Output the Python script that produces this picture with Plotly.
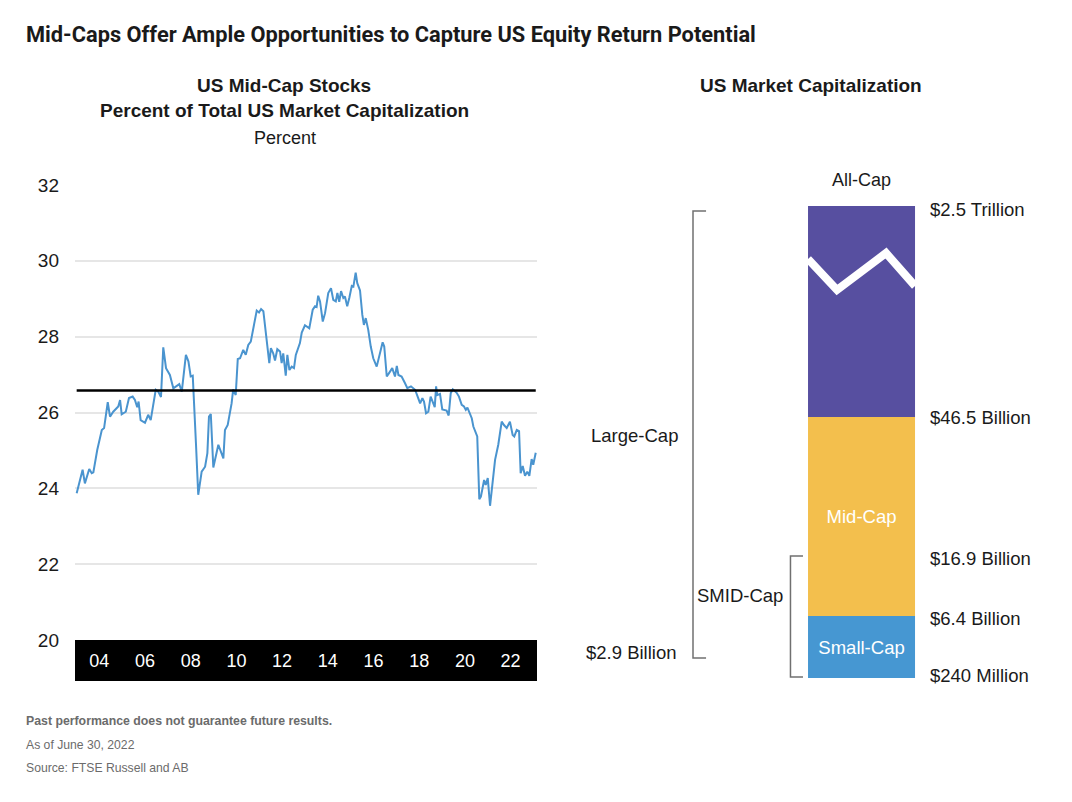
import plotly.graph_objects as go

# ---------------- data: US mid-cap share of total US market cap (%) ----------------
years = [
    2003.01, 2003.27, 2003.37, 2003.56, 2003.67, 2003.74, 2003.91, 2004.11, 2004.21, 2004.37,
    2004.47, 2004.61, 2004.83, 2004.91, 2004.98, 2005.16, 2005.30, 2005.46, 2005.56, 2005.66,
    2005.72, 2005.81, 2006.00, 2006.14, 2006.25, 2006.47, 2006.58, 2006.70, 2006.80, 2006.92,
    2007.09, 2007.24, 2007.50, 2007.61, 2007.79, 2007.90, 2008.00, 2008.09, 2008.23, 2008.33,
    2008.48, 2008.63, 2008.73, 2008.80, 2008.88, 2008.99, 2009.21, 2009.36, 2009.43, 2009.50,
    2009.62, 2009.79, 2009.86, 2009.97, 2010.06, 2010.16, 2010.30, 2010.41, 2010.52, 2010.63,
    2010.74, 2010.89, 2010.99, 2011.08, 2011.18, 2011.28, 2011.35, 2011.44, 2011.51, 2011.61,
    2011.69, 2011.79, 2011.91, 2011.98, 2012.05, 2012.16, 2012.23, 2012.32, 2012.42, 2012.52,
    2012.60, 2012.71, 2012.78, 2012.86, 2013.00, 2013.19, 2013.34, 2013.44, 2013.51, 2013.58,
    2013.66, 2013.78, 2013.88, 2014.02, 2014.14, 2014.24, 2014.35, 2014.42, 2014.50, 2014.58,
    2014.68, 2014.75, 2014.85, 2014.94, 2015.05, 2015.12, 2015.22, 2015.29, 2015.41, 2015.51,
    2015.58, 2015.66, 2015.77, 2015.88, 2015.99, 2016.14, 2016.28, 2016.40, 2016.47, 2016.58,
    2016.68, 2016.82, 2016.94, 2017.02, 2017.09, 2017.23, 2017.38, 2017.48, 2017.64, 2017.82,
    2017.92, 2018.04, 2018.14, 2018.21, 2018.30, 2018.40, 2018.50, 2018.62, 2018.68, 2018.74,
    2018.79, 2018.91, 2019.01, 2019.20, 2019.29, 2019.38, 2019.47, 2019.64, 2019.74, 2019.86,
    2019.96, 2020.04, 2020.11, 2020.30, 2020.37, 2020.54, 2020.63, 2020.70, 2020.84, 2020.91,
    2021.00, 2021.10, 2021.22, 2021.32, 2021.46, 2021.61, 2021.71, 2021.83, 2021.97, 2022.09,
    2022.16, 2022.27, 2022.37, 2022.44, 2022.53, 2022.63, 2022.73, 2022.82, 2022.92, 2022.99,
    2023.10,
]
midcap_pct = [
    23.87, 24.49, 24.13, 24.51, 24.40, 24.42, 25.01, 25.54, 25.59, 26.27,
    25.89, 26.02, 26.16, 26.33, 25.95, 26.02, 26.38, 26.42, 26.33, 26.14,
    26.29, 25.80, 25.73, 25.94, 25.80, 26.60, 26.55, 26.41, 27.72, 27.17,
    26.99, 26.64, 26.75, 26.55, 27.52, 27.35, 26.95, 26.97, 25.19, 23.83,
    24.44, 24.57, 24.93, 25.89, 25.96, 24.55, 25.15, 24.86, 24.79, 25.54,
    25.67, 26.24, 26.61, 26.46, 27.41, 27.43, 27.65, 27.52, 27.78, 27.87,
    28.18, 28.69, 28.64, 28.73, 28.67, 28.09, 27.83, 27.30, 27.70, 27.56,
    27.37, 27.67, 27.61, 27.30, 27.56, 26.97, 27.52, 27.12, 27.21, 27.17,
    27.52, 27.70, 27.83, 28.11, 28.30, 28.22, 28.71, 28.80, 28.78, 29.08,
    28.93, 28.40, 28.62, 29.15, 29.28, 28.97, 28.93, 29.15, 28.92, 29.20,
    29.02, 29.06, 28.80, 29.02, 29.34, 29.32, 29.69, 29.41, 29.22, 28.58,
    28.31, 28.49, 28.18, 27.74, 27.43, 27.21, 27.52, 27.85, 27.74, 26.95,
    27.04, 27.17, 26.95, 27.23, 26.99, 26.95, 26.77, 26.64, 26.69, 26.60,
    26.44, 26.24, 26.38, 26.29, 25.98, 26.02, 26.42, 26.24, 26.14, 26.69,
    26.46, 26.49, 26.08, 26.05, 25.92, 26.51, 26.61, 26.52, 26.42, 26.20,
    26.16, 26.07, 26.13, 25.85, 25.63, 25.37, 23.71, 23.78, 24.22, 24.09,
    24.27, 23.54, 24.22, 24.75, 25.15, 25.76, 25.67, 25.59, 25.76, 25.41,
    25.37, 25.54, 25.51, 24.40, 24.59, 24.33, 24.44, 24.33, 24.77, 24.62,
    24.94,
]
average_pct = 26.58

x_tick_years = [2004, 2006, 2008, 2010, 2012, 2014, 2016, 2018, 2020, 2022]
x_tick_labels = ["04", "06", "08", "10", "12", "14", "16", "18", "20", "22"]
y_ticks = [20, 22, 24, 26, 28, 30, 32]

# ---------------- data: market-cap schematic ----------------
segment_names = ["Small-Cap", "Mid-Cap", "Large-Cap"]
segment_text = ["Small-Cap", "Mid-Cap", ""]
boundary_labels = ["$240 Million", "$6.4 Billion", "$16.9 Billion", "$46.5 Billion", "$2.5 Trillion"]

# ---------------- layout constants (schematic positions) ----------------
W, H = 1072, 802
def px(y):  # paper fraction from pixel row
    return 1 - y / H

seg_base = [0, 62, 261]
seg_height = [62, 199, 211]
seg_colors = ["#4697d2", "#f3bf4d", "#574fa0"]
label_levels = [3, 60, 120, 261, 469]

font_reg = "Liberation Sans, Arial, Helvetica, sans-serif"
font_title = "Roboto, Liberation Sans, sans-serif"
txt = "#1a1a1a"

fig = go.Figure()

# line chart
fig.add_trace(go.Scatter(
    x=years, y=midcap_pct, mode="lines",
    line=dict(color="#4a94cf", width=2), xaxis="x", yaxis="y",
    showlegend=False, hoverinfo="x+y",
))
fig.add_trace(go.Scatter(
    x=[years[0], years[-1]], y=[average_pct, average_pct], mode="lines",
    line=dict(color="black", width=2.5), xaxis="x", yaxis="y3",
    showlegend=False, hoverinfo="y",
))

# stacked schematic bar
fig.add_trace(go.Bar(
    x=[0, 0, 0], y=seg_height, base=seg_base, width=1,
    marker=dict(color=seg_colors, line=dict(width=0)),
    text=segment_text, textposition="inside", insidetextanchor="middle",
    textangle=0, textfont=dict(color="white", size=18.5, family=font_reg),
    hovertext=segment_names, hoverinfo="text",
    xaxis="x2", yaxis="y2", showlegend=False,
))

# break zigzag in the large-cap segment
fig.add_trace(go.Scatter(
    x=[-0.5, -0.229, 0.229, 0.5], y=[419, 388, 425, 392], mode="lines",
    line=dict(color="white", width=8), xaxis="x2", yaxis="y2",
    showlegend=False, hoverinfo="skip",
))

# brackets
bracket_color = "#707070"
fig.add_trace(go.Scatter(
    x=[-1.453, -1.575, -1.575, -1.453], y=[467, 467, 20, 20], mode="lines",
    line=dict(color=bracket_color, width=1.5), xaxis="x2", yaxis="y2",
    showlegend=False, hoverinfo="skip",
))
fig.add_trace(go.Scatter(
    x=[-0.547, -0.664, -0.664, -0.547], y=[122, 122, 1, 1], mode="lines",
    line=dict(color=bracket_color, width=1.5), xaxis="x2", yaxis="y2",
    showlegend=False, hoverinfo="skip",
))

annotations = []
def ann(text, x, y, size=17, bold=False, xanchor="center", color=txt, family=font_reg,
        xref="paper", yref="paper"):
    t = f"<b>{text}</b>" if bold else text
    annotations.append(dict(text=t, x=x, y=y, xref=xref, yref=yref, xanchor=xanchor,
                            yanchor="middle", showarrow=False,
                            font=dict(size=size, color=color, family=family)))

ann("Mid-Caps Offer Ample Opportunities to Capture US Equity Return Potential",
    24 / W, px(34), size=21.8, bold=True, xanchor="left", family=font_title)
ann("US Mid-Cap Stocks", 284 / W, px(85), size=19, bold=True)
ann("Percent of Total US Market Capitalization", 284 / W, px(111), size=19, bold=True)
ann("Percent", 285 / W, px(138), size=18)
ann("US Market Capitalization", 811 / W, px(85), size=19, bold=True)

# right panel labels
for lab, lev in zip(boundary_labels, label_levels):
    ann(lab, 0.621, lev, size=18.5, xanchor="left", xref="x2", yref="y2")
ann("All-Cap", 0, 498, size=18, xref="x2", yref="y2")
ann("Large-Cap", -1.696, 243, size=18.5, xanchor="right", xref="x2", yref="y2")
ann("$2.9 Billion", -1.706, 26, size=18.5, xanchor="right", xref="x2", yref="y2")
ann("SMID-Cap", -0.715, 83, size=18.5, xanchor="right", xref="x2", yref="y2")

# footer
grey = "#6b6b6b"
ann("Past performance does not guarantee future results.", 24 / W, px(721), size=12.3,
    bold=True, xanchor="left", color=grey)
ann("As of June 30, 2022", 24 / W, px(745), size=12.2, xanchor="left", color=grey)
ann("Source: FTSE Russell and AB", 24 / W, px(768), size=12.2, xanchor="left", color=grey)

x_dom = [75 / W, 537 / W]
y_dom = [px(640), px(185)]

fig.update_layout(
    width=W, height=H, autosize=False,
    margin=dict(l=0, r=0, t=0, b=0, pad=0, autoexpand=False),
    paper_bgcolor="white", plot_bgcolor="rgba(0,0,0,0)",
    barmode="overlay",
    annotations=annotations,
    shapes=[dict(type="rect", xref="paper", yref="paper", layer="below",
                 x0=x_dom[0], x1=x_dom[1], y0=px(681), y1=y_dom[0],
                 fillcolor="black", line=dict(width=0))],
    xaxis=dict(domain=x_dom, range=[2002.937, 2023.155], tickvals=x_tick_years,
               ticktext=x_tick_labels, showgrid=False, zeroline=False, showline=False,
               ticks="outside", ticklen=4, tickcolor="black", automargin=False,
               tickfont=dict(color="white", size=18, family=font_reg), fixedrange=True),
    yaxis=dict(domain=y_dom, range=[20, 32], tickvals=[22, 24, 26, 28, 30, 32],
               showticklabels=False, showgrid=True, gridcolor="#e6e6e6", gridwidth=1.5,
               zeroline=False, showline=False, fixedrange=True, automargin=False),
    yaxis3=dict(domain=y_dom, range=[20, 32], overlaying="y", tickvals=y_ticks,
                showgrid=False, zeroline=False, showline=False, ticklabelstandoff=15,
                automargin=False,
                tickfont=dict(color=txt, size=19, family=font_reg), fixedrange=True),
    xaxis2=dict(domain=[580 / W, 1.0], range=[-2.631, 1.967], visible=False,
                fixedrange=True, automargin=False),
    yaxis2=dict(domain=[px(708), px(168)], range=[-30, 510], visible=False,
                fixedrange=True, automargin=False),
)

fig.write_html("out.html", config={"displayModeBar": False},
               post_script="document.body.style.margin='0';")
